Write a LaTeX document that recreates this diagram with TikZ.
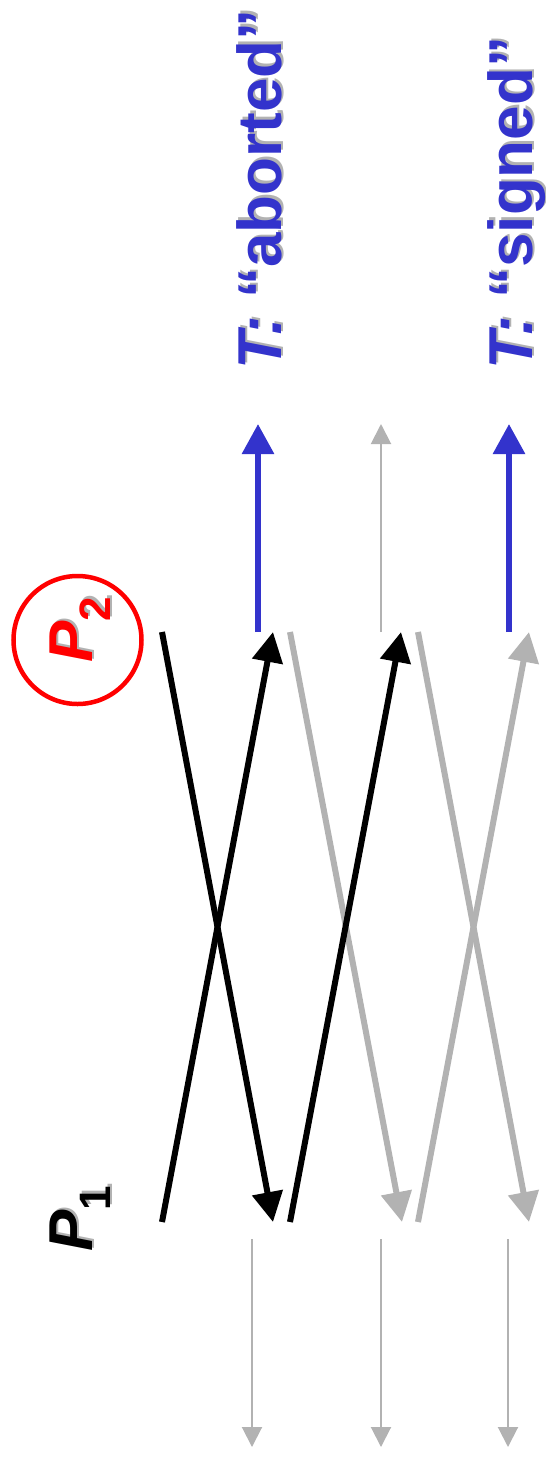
\documentclass[tikz,border=0pt]{standalone}
\usepackage{fontspec}
\setmainfont{Liberation Sans}
\usetikzlibrary{arrows.meta}
\definecolor{tblue}{HTML}{3333CC}
\definecolor{lgray}{HTML}{B2B2B2}
\definecolor{pred}{HTML}{FF0000}
\newcommand{\subtxt}[1]{\upshape\raisebox{-18pt}{\fontsize{44}{46}\selectfont #1}}
\begin{document}
\begin{tikzpicture}[x=1pt,y=-1pt,
  msg/.style={line width=6pt,-{Triangle[length=30pt,width=30pt]}},
  blackmsg/.style={msg,draw=black},
  graymsg/.style={msg,draw=lgray,color=lgray},
  result/.style={line width=6pt,draw=tblue,color=tblue,-{Triangle[length=30pt,width=31pt]}},
  thinline/.style={line width=2pt,draw=lgray,color=lgray,-{Triangle[length=20pt,width=20pt]}},
  lbl/.style={rotate=90,anchor=base west,inner sep=0pt,font=\bfseries\fontsize{62}{64}\selectfont},
  plbl/.style={rotate=90,anchor=base west,inner sep=0pt,font=\bfseries\fontsize{62}{64}\selectfont}
]
\useasboundingbox (0,0) rectangle (546,1459);
% coordinates
\coordinate (a1) at (162,632);  \coordinate (a2) at (273,1222);
\coordinate (b1) at (162,1222); \coordinate (b2) at (273,632);
\coordinate (c1) at (290,1222); \coordinate (c2) at (401,632);
\coordinate (d1) at (290,632);  \coordinate (d2) at (402,1222);
\coordinate (e1) at (418,632);  \coordinate (e2) at (529,1222);
\coordinate (f1) at (418,1222); \coordinate (f2) at (529,632);
\coordinate (u1s) at (258,632); \coordinate (u1e) at (258,424);
\coordinate (u2s) at (381,632); \coordinate (u2e) at (381,424);
\coordinate (u3s) at (509,632); \coordinate (u3e) at (509,424);
\coordinate (w1s) at (252,1239); \coordinate (w1e) at (252,1447);
\coordinate (w2s) at (381,1239); \coordinate (w2e) at (381,1447);
\coordinate (w3s) at (508,1239); \coordinate (w3e) at (508,1447);
% thin gray arrows
\draw[thinline] (u2s) -- (u2e);
\draw[thinline] (w1s) -- (w1e);
\draw[thinline] (w2s) -- (w2e);
\draw[thinline] (w3s) -- (w3e);
% gray messages
\draw[graymsg] (d1) -- (d2);
\draw[graymsg] (e1) -- (e2);
\draw[graymsg] (f1) -- (f2);
% black messages
\draw[blackmsg] (a1) -- (a2);
\draw[blackmsg] (b1) -- (b2);
\draw[blackmsg] (c1) -- (c2);
% blue results
\draw[result] (u1s) -- (u1e);
\draw[result] (u3s) -- (u3e);
% labels
\node[lbl,text=lgray] (lab1s) at (283.5,367.5) {\itshape T:\upshape{} “aborted”};
\node[lbl,text=tblue] (lab1) at (281,370) {\itshape T:\upshape{} “aborted”};
\node[lbl,text=lgray] (lab2s) at (534.5,367.5) {\itshape T:\upshape{} “signed”};
\node[lbl,text=tblue] (lab2) at (532,370) {\itshape T:\upshape{} “signed”};
% P2 circle
\draw[pred,line width=4.5pt] (77.5,640) circle[radius=64];
\node[plbl,text=lgray] (p2s) at (94.5,660.5) {\itshape P\subtxt{2}};
\node[plbl,text=pred] (p2) at (92,663) {\itshape P\subtxt{2}};
\node[plbl,text=lgray] (p1s) at (94.5,1249.5) {\itshape P\subtxt{1}};
\node[plbl,text=black] (p1) at (92,1252) {\itshape P\subtxt{1}};
\end{tikzpicture}
\end{document}
